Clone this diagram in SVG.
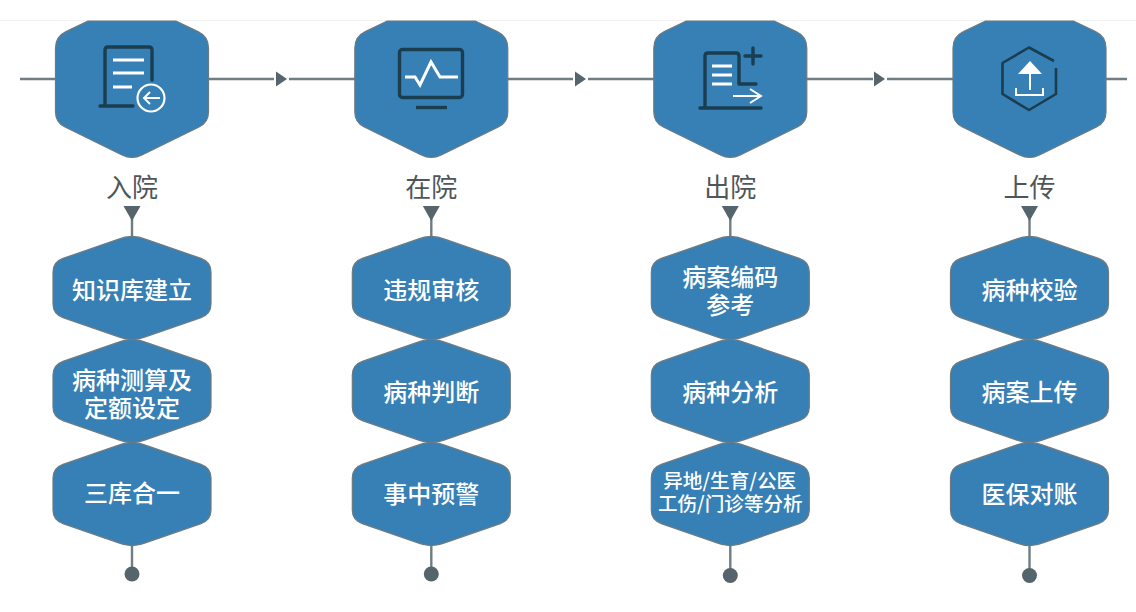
<svg xmlns="http://www.w3.org/2000/svg" width="1136" height="612" viewBox="0 0 1136 612">
<style>
.hex{fill:#3680b6;stroke:#6b7a80;stroke-width:1.2}
.ln{fill:none;stroke:#6f7e84;stroke-width:2.4}
.mk{fill:#56656b}
.lab{font:26px "Noto Sans CJK SC","Noto Sans",sans-serif;fill:#4f5659;text-anchor:middle}
.t{font:500 24px "Noto Sans CJK SC","Noto Sans",sans-serif;fill:#fff;text-anchor:middle}
.s{font:500 19.6px "Noto Sans CJK SC","Noto Sans",sans-serif;fill:#fff;text-anchor:middle}
.d{fill:none;stroke:#1a3d50;stroke-width:3.4;stroke-linecap:round;stroke-linejoin:round}
.w{fill:none;stroke:#fff;stroke-width:3}
</style>
<defs>
<path id="top" d="M-44,21L-66,31.6Q-76.5,36.6-76.5,48L-76.5,112Q-76.5,122.5-67,127L-10,155Q0,160 10,155L67,127Q76.5,122.5 76.5,112L76.5,48Q76.5,36.6 66,31.6L44,21Z"/>
<path id="sm" d="M-14,-48.6L-69,-29.6Q-79,-26-79,-16L-79,16Q-79,26-69,29.6L-14,48.6Q0,54.5 14,48.6L69,29.6Q79,26 79,16L79,-16Q79,-26 69,-29.6L14,-48.6Q0,-54.5-14,-48.6Z"/>
<path id="ar" d="M0,-7.5L11,0L0,7.5Z"/>
<path id="dn" d="M-8.5,0L8.5,0L0,15Z"/>
</defs>
<rect width="1136" height="612" fill="#fff"/>
<path d="M0,20.5H1136" stroke="#f0f0f0" stroke-width="1"/>
<g id="connectors">
<path class="ln" d="M20,79H60M205,79H274M289,79H360M503,79H573M588,79H660M802,79H873M887,79H958M1100,79H1127"/>
<use href="#ar" class="mk" x="276" y="79"/>
<use href="#ar" class="mk" x="575" y="79"/>
<use href="#ar" class="mk" x="874" y="79"/>
<path class="ln" d="M132,218V240M431.3,218V240M730.3,218V240M1029.5,218V240M132,542V574M431.3,542V574M730.3,542V575M1029.5,542V575"/>
<use href="#dn" class="mk" x="132" y="206"/>
<use href="#dn" class="mk" x="431.3" y="206"/>
<use href="#dn" class="mk" x="730.3" y="206"/>
<use href="#dn" class="mk" x="1029.5" y="206"/>
<circle class="mk" cx="132" cy="574" r="7.5"/>
<circle class="mk" cx="431.3" cy="574" r="7.5"/>
<circle class="mk" cx="730.3" cy="575.5" r="7.5"/>
<circle class="mk" cx="1029.5" cy="575.5" r="7.5"/>
</g>
<g id="stage-ruyuan">
<use href="#top" class="hex" x="132"/>
<path class="d" d="M105,105V50Q105,47 108,47H149Q152,47 152,50V80M100,106H133"/>
<path class="w" d="M113,60H144M113,73H144M113,87H132"/>
<circle cx="151" cy="98" r="13.5" fill="#3680b6" stroke="#fff" stroke-width="2.2"/>
<path class="w" style="stroke-width:2" d="M160,98H144M150,92L144,98L150,104"/>
<text class="lab" x="132" y="197">入院</text>
</g>
<g id="stage-zaiyuan">
<use href="#top" class="hex" x="431.3"/>
<rect class="d" x="399.5" y="49.5" width="63" height="48" rx="3"/>
<path class="d" style="stroke-linecap:butt" d="M416,107.5H447"/>
<path class="w" d="M405,77H415L420,85L431,62L440,77H458"/>
<text class="lab" x="431.3" y="197">在院</text>
</g>
<g id="stage-chuyuan">
<use href="#top" class="hex" x="730.3"/>
<path class="d" d="M705,107V56Q705,53 708,53H736Q739,53 739,56V84H756M700,108H761M753,48V64M745,56H761"/>
<path class="w" d="M712,66H732M712,75H732M712,84H732"/>
<path class="w" style="stroke-width:2" d="M733,96H761M750,89L761,96L750,103"/>
<text class="lab" x="730.3" y="197">出院</text>
</g>
<g id="stage-shangchuan">
<use href="#top" class="hex" x="1029.5"/>
<path class="d" style="stroke-width:2.6;stroke-linecap:butt" d="M1054,61L1029,47.5L1002.5,63V94L1029,110L1056,94V68"/>
<path d="M1030,61L1042,74H1018Z" fill="#fff"/>
<path class="w" style="stroke-width:2" d="M1030,74V90M1016,88V95H1043V88"/>
<text class="lab" x="1029.5" y="197">上传</text>
</g>
<g id="n1-1"><use href="#sm" class="hex" x="132" y="288"/><text class="t" x="132" y="299">知识库建立</text></g>
<g id="n1-2"><use href="#sm" class="hex" x="132" y="391"/><text class="t" x="132" y="389">病种测算及</text><text class="t" x="132" y="417">定额设定</text></g>
<g id="n1-3"><use href="#sm" class="hex" x="132" y="494"/><text class="t" x="132" y="502">三库合一</text></g>
<g id="n2-1"><use href="#sm" class="hex" x="431.3" y="288"/><text class="t" x="431.3" y="299">违规审核</text></g>
<g id="n2-2"><use href="#sm" class="hex" x="431.3" y="391"/><text class="t" x="431.3" y="401">病种判断</text></g>
<g id="n2-3"><use href="#sm" class="hex" x="431.3" y="494"/><text class="t" x="431.3" y="503">事中预警</text></g>
<g id="n3-1"><use href="#sm" class="hex" x="730.3" y="288"/><text class="t" x="730.3" y="286">病案编码</text><text class="t" x="730.3" y="314">参考</text></g>
<g id="n3-2"><use href="#sm" class="hex" x="730.3" y="391"/><text class="t" x="730.3" y="401">病种分析</text></g>
<g id="n3-3"><use href="#sm" class="hex" x="730.3" y="494"/><text class="s" x="729.7" y="488">异地/生育/公医</text><text class="s" x="730.3" y="511">工伤/门诊等分析</text></g>
<g id="n4-1"><use href="#sm" class="hex" x="1029.5" y="288"/><text class="t" x="1029.5" y="299">病种校验</text></g>
<g id="n4-2"><use href="#sm" class="hex" x="1029.5" y="391"/><text class="t" x="1029.5" y="401">病案上传</text></g>
<g id="n4-3"><use href="#sm" class="hex" x="1029.5" y="494"/><text class="t" x="1029.5" y="503">医保对账</text></g>
</svg>
